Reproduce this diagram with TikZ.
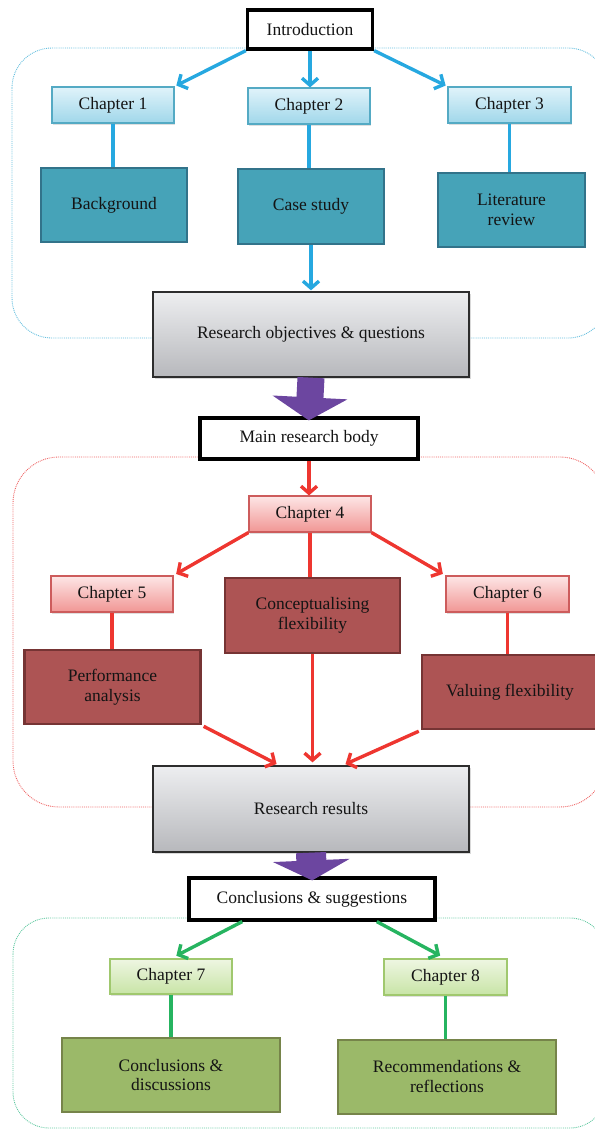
\documentclass[tikz,border=0pt]{standalone}
\usepackage{fontspec}
\setmainfont{Liberation Serif}
\usepackage{tikz}
\usetikzlibrary{
  arrows.meta,
  calc,
  shadows
}
\definecolor{txt}{RGB}{20,20,20}
\definecolor{cyanline}{RGB}{38,168,224}
\definecolor{cyantop}{RGB}{224,243,250}
\definecolor{cyanbot}{RGB}{160,215,234}
\definecolor{cyanedge}{RGB}{84,170,196}
\definecolor{tealfill}{RGB}{70,163,184}
\definecolor{tealedge}{RGB}{50,115,138}
\definecolor{graytop}{RGB}{237,238,240}
\definecolor{graybot}{RGB}{183,184,188}
\definecolor{grayedge}{RGB}{45,45,45}
\definecolor{purplearr}{RGB}{108,70,160}
\definecolor{redline}{RGB}{238,54,48}
\definecolor{pinktop}{RGB}{253,230,230}
\definecolor{pinkbot}{RGB}{241,150,148}
\definecolor{pinkedge}{RGB}{205,92,92}
\definecolor{brickfill}{RGB}{173,84,84}
\definecolor{brickedge}{RGB}{118,52,52}
\definecolor{greenline}{RGB}{38,180,96}
\definecolor{limetop}{RGB}{238,246,226}
\definecolor{limebot}{RGB}{200,228,166}
\definecolor{limeedge}{RGB}{160,200,110}
\definecolor{olivefill}{RGB}{155,185,105}
\definecolor{oliveedge}{RGB}{118,132,74}
\definecolor{blueregion}{RGB}{100,190,222}
\definecolor{redregion}{RGB}{238,100,100}
\definecolor{greenregion}{RGB}{95,200,160}

\begin{document}
\begin{tikzpicture}[x=1pt, y=-1pt,
  every node/.style={font=\fontsize{17.5}{20}\selectfont, text=txt, align=center, inner sep=0pt},
  headbox/.style={draw=black, line width=3.2pt, fill=white},
  chapbox/.style={line width=1.1pt, minimum width=122pt, minimum height=36pt,
    drop shadow={opacity=0.25, shadow xshift=1.2pt, shadow yshift=-1.8pt}},
  bluechap/.style={chapbox, draw=cyanedge, top color=cyantop, bottom color=cyanbot},
  pinkchap/.style={chapbox, draw=pinkedge, top color=pinktop, bottom color=pinkbot},
  limechap/.style={chapbox, draw=limeedge, top color=limetop, bottom color=limebot},
  topicbox/.style={line width=2.8pt, minimum width=146pt, minimum height=74pt},
  tealbox/.style={topicbox, draw=tealedge, fill=tealfill},
  brickbox/.style={topicbox, draw=brickedge, fill=brickfill},
  olivebox/.style={topicbox, draw=oliveedge, fill=olivefill},
  graybox/.style={draw=grayedge, line width=1.3pt, top color=graytop, bottom color=graybot,
    minimum width=316pt, minimum height=85pt,
    drop shadow={opacity=0.3, shadow xshift=1.5pt, shadow yshift=-2pt}},
  region/.style={densely dotted, line width=0.9pt},
  link/.style={line width=3.4pt},
  arr/.style={link, -{Straight Barb[length=7pt, width=16pt]}},
  blockarr/.style={line width=27pt, draw=purplearr, -{Triangle[width=74pt, length=23pt]}, shorten >=-4pt}
]
  \useasboundingbox (0,0) rectangle (594,1129);

  % dotted groups
  \draw[region, draw=blueregion, rounded corners=40pt] (12,48) rectangle (608,338);
  \draw[region, draw=redregion, rounded corners=46pt] (13,457) rectangle (606,807);
  \draw[region, draw=greenregion, rounded corners=36pt] (13,918) rectangle (606,1128);

  % introduction part
  \node[headbox, minimum width=125pt, minimum height=39pt] (intro) at (310,29.5) {Introduction};
  \node[bluechap] (ch1) at (113,105) {Chapter 1};
  \node[bluechap] (ch2) at (309,106) {Chapter 2};
  \node[bluechap, minimum width=123pt] (ch3) at (509.5,105) {Chapter 3};
  \node[tealbox] (backgr) at (114,205) {Background};
  \node[tealbox, minimum height=75pt] (casestudy) at (311,206.5) {Case study};
  \node[tealbox, minimum width=147pt] (litrev) at (511.5,210) {Literature\\review};
  \node[graybox] (objectives) at (311,334.5) {Research objectives \& questions};

  % main research body
  \node[headbox, minimum width=218pt, minimum height=41pt] (mainbody) at (309,438.5) {Main research body};
  \node[pinkchap] (ch4) at (310,514) {Chapter 4};
  \node[pinkchap] (ch5) at (112,594) {Chapter 5};
  \node[brickbox, minimum width=175pt, minimum height=75pt] (concept) at (312.5,615.5) {Conceptualising\\flexibility};
  \node[pinkchap, minimum width=123pt] (ch6) at (507.5,594) {Chapter 6};
  \node[brickbox, minimum width=176pt] (perf) at (112.5,687) {Performance\\analysis};
  \node[brickbox, minimum width=176pt] (valuing) at (510,692) {Valuing flexibility};
  \node[graybox, minimum height=86pt] (results) at (311,809) {Research results};

  % conclusions
  \node[headbox, minimum width=246pt, minimum height=42pt] (concl) at (312,899) {Conclusions \& suggestions};
  \node[limechap, minimum height=35pt] (ch7) at (171,976.5) {Chapter 7};
  \node[limechap, minimum width=123pt] (ch8) at (445.5,977) {Chapter 8};
  \node[olivebox, minimum width=218pt] (discuss) at (171,1075) {Conclusions \&\\discussions};
  \node[olivebox, minimum width=218pt] (reflect) at (447,1077) {Recommendations \&\\reflections};

  % blue links
  \draw[arr, cyanline, shorten >=2pt] (intro.south west) -- (ch1.north east);
  \draw[arr, cyanline] (intro.south) -- (intro.south |- ch2.north);
  \draw[arr, cyanline, shorten >=2pt] (intro.south east) -- (ch3.north west);
  \draw[link, cyanline] (ch1.south) -- (ch1.south |- backgr.north);
  \draw[link, cyanline] (ch2.south) -- (ch2.south |- casestudy.north);
  \draw[link, cyanline] (ch3.south) -- (ch3.south |- litrev.north);
  \draw[arr, cyanline, shorten >=1pt] (casestudy.south) -- (casestudy.south |- objectives.north);

  % red links
  \draw[arr, redline] (mainbody.south) -- (mainbody.south |- ch4.north);
  \draw[arr, redline, shorten >=3pt] (ch4.south west) -- (ch5.north east);
  \draw[link, redline] (ch4.south) -- (ch4.south |- concept.north);
  \draw[arr, redline, shorten >=3pt] (ch4.south east) -- (ch6.north west);
  \draw[link, redline] (ch5.south) -- (ch5.south |- perf.north);
  \draw[link, redline] (ch6.south) -- (ch6.south |- valuing.north);
  \draw[arr, redline, shorten <=2pt, shorten >=3pt] (perf.south east) -- ($(results.north west)!0.4!(results.north east)$);
  \draw[arr, redline, shorten >=3pt] (concept.south) -- (concept.south |- results.north);
  \draw[arr, redline, shorten <=2pt, shorten >=3pt] (valuing.south west) -- ($(results.north west)!0.6!(results.north east)$);

  % green links
  \draw[arr, greenline, shorten >=6pt] ($(concl.south west)!0.22!(concl.south east)$) -- (ch7.north);
  \draw[arr, greenline, shorten >=6pt] ($(concl.south west)!0.76!(concl.south east)$) -- (ch8.north);
  \draw[link, greenline] (ch7.south) -- (ch7.south |- discuss.north);
  \draw[link, greenline] (ch8.south) -- (ch8.south |- reflect.north);

  % block arrows
  \draw[blockarr] (objectives.south) -- (mainbody.north);
  \draw[blockarr, line width=30pt, -{Triangle[width=76pt, length=20pt]}] (results.south) -- (concl.north);
\end{tikzpicture}
\end{document}
